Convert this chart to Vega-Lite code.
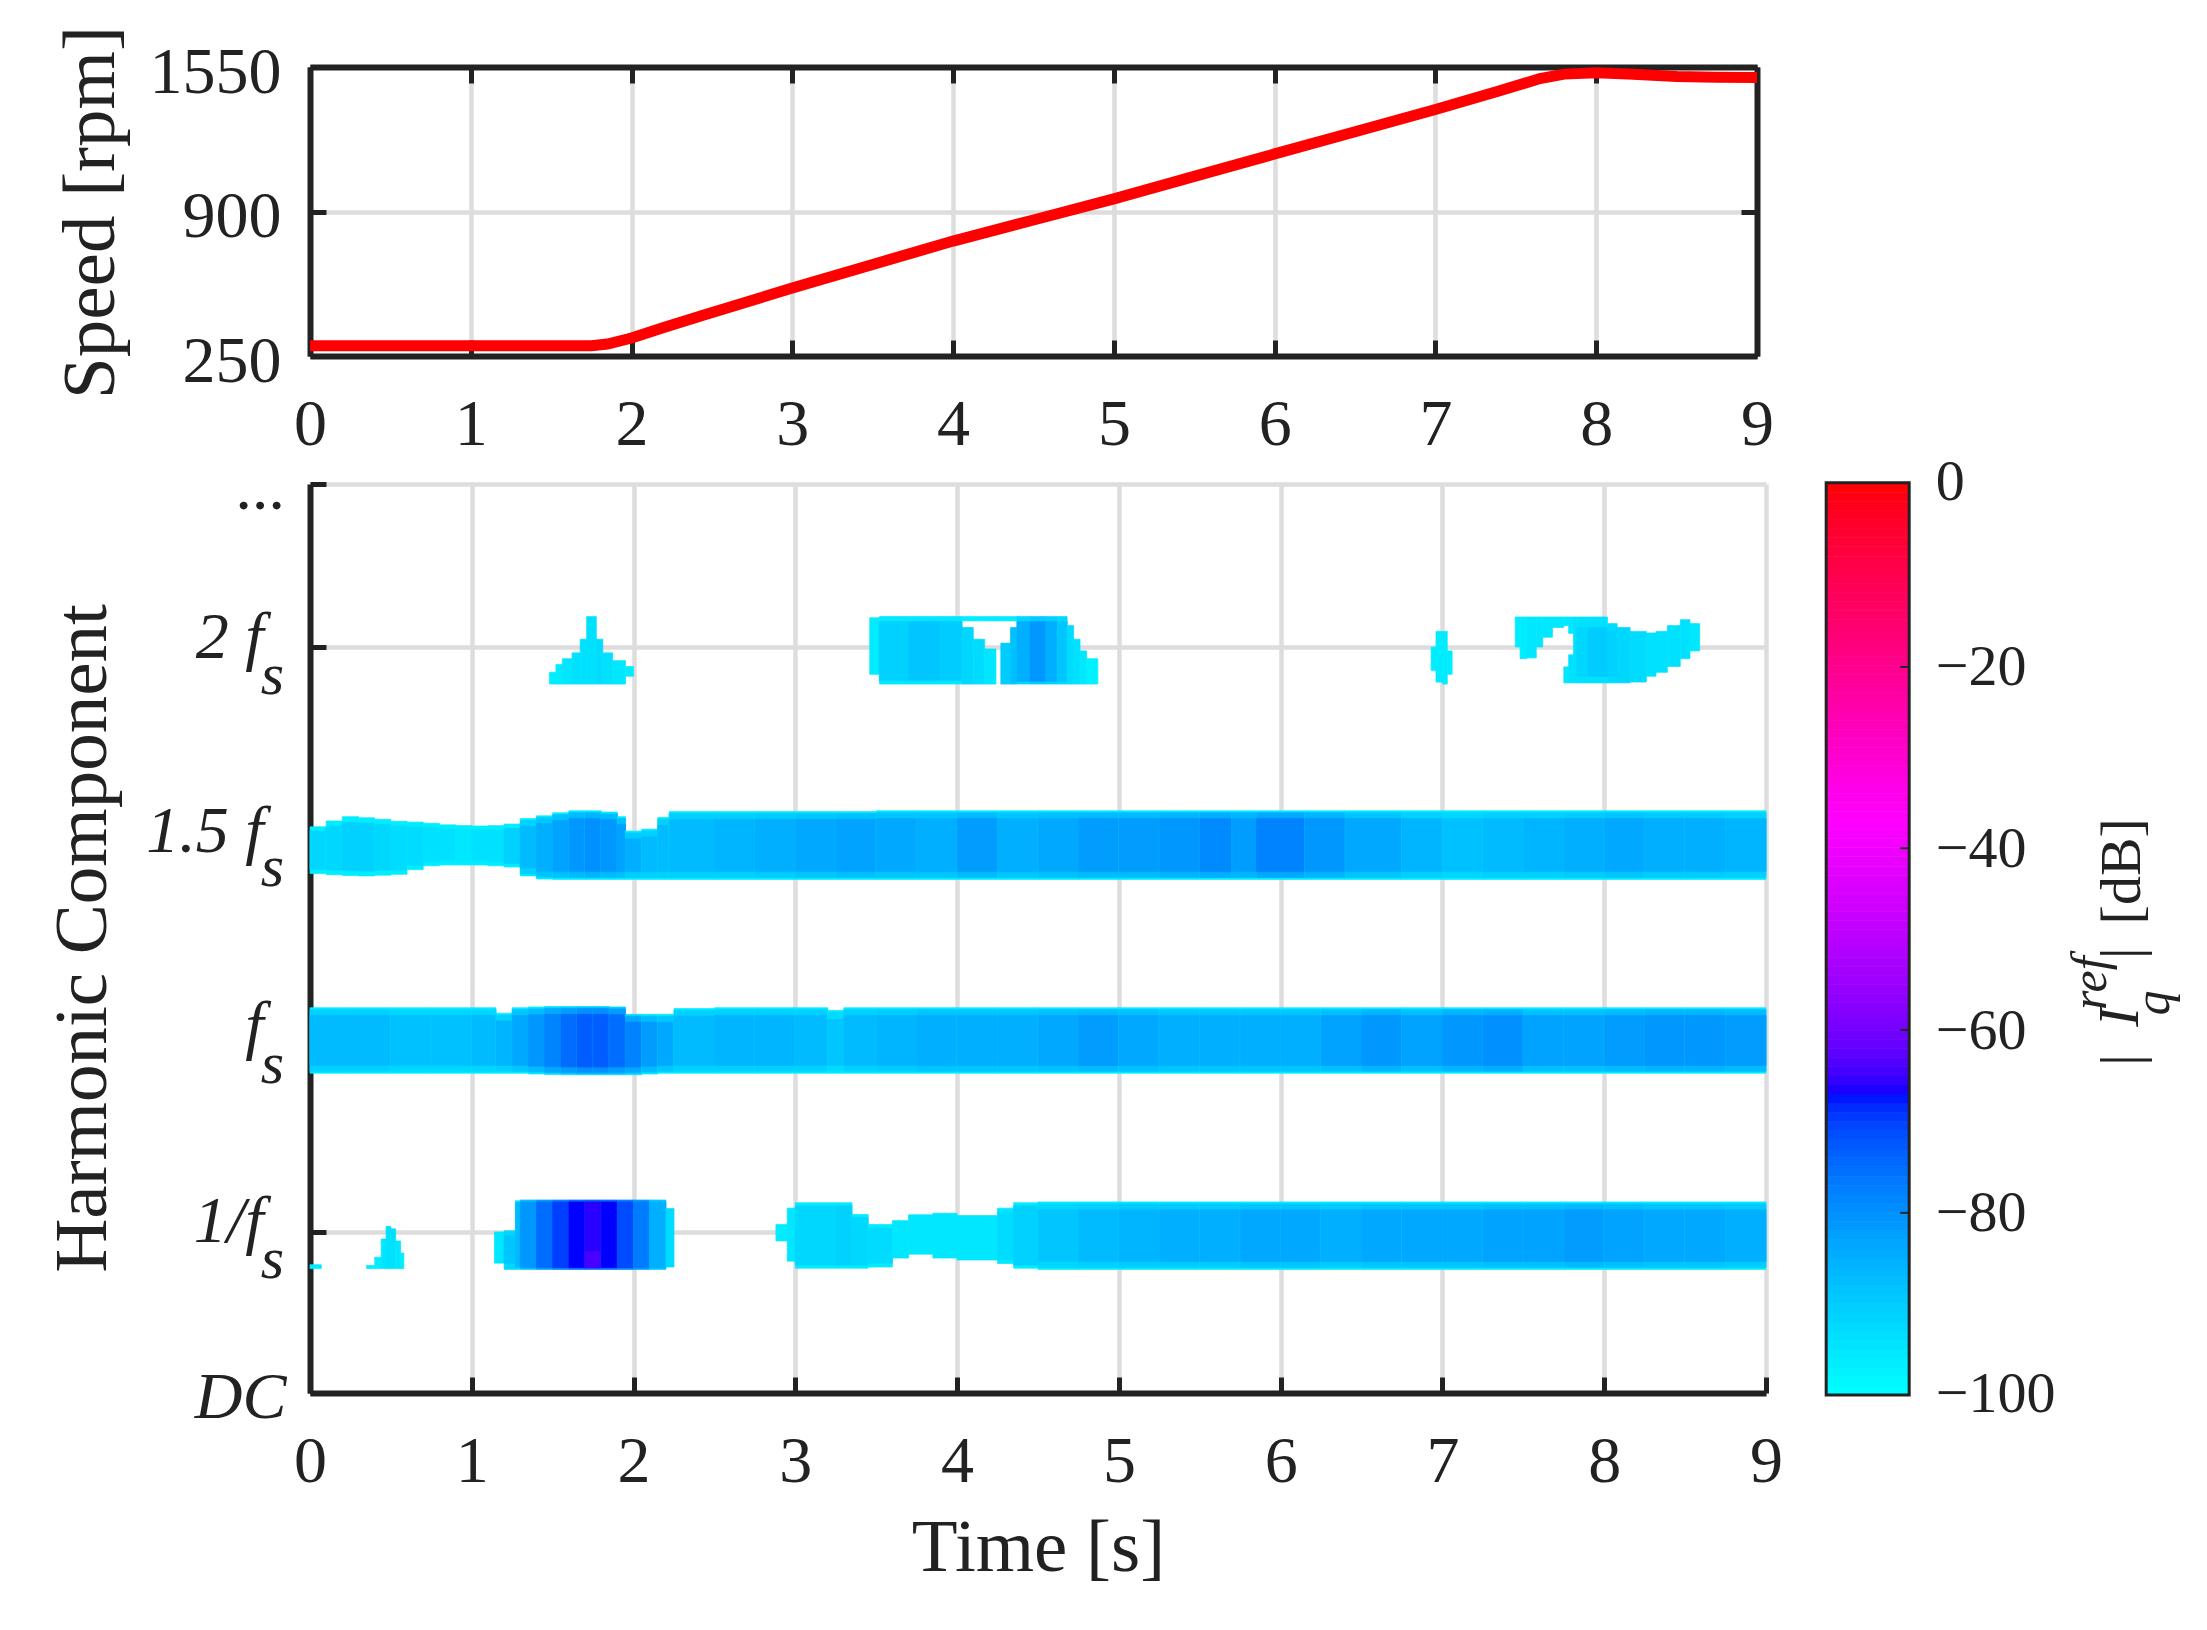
{"$schema":"https://vega.github.io/schema/vega-lite/v6.json","autosize":{"type":"none"},"padding":{"left":310,"top":67,"right":1897,"bottom":1563},"background":"white","bounds":"flush","spacing":128,"config":{"view":{"stroke":null},"font":"Liberation Serif","axis":{"labelFont":"Liberation Serif","titleFont":"Liberation Serif","labelColor":"#222222","titleColor":"#222222","titleFontWeight":"normal","domainColor":"#222222","domainWidth":6,"tickColor":"#222222","tickWidth":5,"tickSize":-16,"gridColor":"#dddddd","gridWidth":4.5,"labelFontSize":66,"titleFontSize":75,"labelFlush":false,"labelOverlap":false}},
"datasets":{
"speed":[{"t":0,"rpm":296},{"t":0.5,"rpm":296},{"t":1,"rpm":296},{"t":1.5,"rpm":296},{"t":1.75,"rpm":296},{"t":1.85,"rpm":304},{"t":2,"rpm":331},{"t":2.2,"rpm":378},{"t":2.44,"rpm":432},{"t":3,"rpm":556},{"t":3.5,"rpm":662},{"t":4,"rpm":767},{"t":4.5,"rpm":862},{"t":5,"rpm":957},{"t":5.5,"rpm":1058},{"t":6,"rpm":1159},{"t":6.5,"rpm":1259},{"t":7,"rpm":1359},{"t":7.4,"rpm":1443},{"t":7.65,"rpm":1498},{"t":7.8,"rpm":1518},{"t":8,"rpm":1524},{"t":8.2,"rpm":1518},{"t":8.5,"rpm":1507},{"t":8.75,"rpm":1504},{"t":9,"rpm":1503}],
"subs":[{"x":-0.232,"y":1.926,"label":"s"},{"x":-0.232,"y":1.433,"label":"s"},{"x":-0.232,"y":0.928,"label":"s"},{"x":-0.232,"y":0.428,"label":"s"}],
"cbframe":[{"t":9.372,"t2":9.885,"y":0.082,"y2":2.421}],
"cbticks":[{"x":9.83,"x2":9.885,"y":1.949},{"x":9.83,"x2":9.885,"y":1.484},{"x":9.83,"x2":9.885,"y":1.018},{"x":9.83,"x2":9.885,"y":0.549}],
"cblabels":[{"x":10.05,"y":0.082,"label":"−100"},{"x":10.05,"y":0.545,"label":"−80"},{"x":10.05,"y":1.012,"label":"−60"},{"x":10.05,"y":1.48,"label":"−40"},{"x":10.05,"y":1.945,"label":"−20"},{"x":10.05,"y":2.421,"label":"0"}],
"cbtitle":[{"x":11.31,"y":1.425,"label":"[dB]"},{"x":11.31,"y":0.941,"label":"|"},{"x":11.31,"y":1.215,"label":"|"}],
"cbitalic":[{"x":11.3,"y":1.051,"label":"I"}],
"cbsmall":[{"x":11.1,"y":1.138,"label":"ref"},{"x":11.49,"y":1.087,"label":"q"}],
"field":[
{"t":9.372,"t2":9.885,"y":0.082,"y2":0.105,"db":-99.5},{"t":9.372,"t2":9.885,"y":0.105,"y2":0.129,"db":-98.5},{"t":9.372,"t2":9.885,"y":0.129,"y2":0.152,"db":-97.5},{"t":9.372,"t2":9.885,"y":0.152,"y2":0.176,"db":-96.5},{"t":9.372,"t2":9.885,"y":0.176,"y2":0.199,"db":-95.5},{"t":9.372,"t2":9.885,"y":0.199,"y2":0.222,"db":-94.5},{"t":9.372,"t2":9.885,"y":0.222,"y2":0.246,"db":-93.5},{"t":9.372,"t2":9.885,"y":0.246,"y2":0.269,"db":-92.5},{"t":9.372,"t2":9.885,"y":0.269,"y2":0.292,"db":-91.5},{"t":9.372,"t2":9.885,"y":0.292,"y2":0.316,"db":-90.5},
{"t":9.372,"t2":9.885,"y":0.316,"y2":0.339,"db":-89.5},{"t":9.372,"t2":9.885,"y":0.339,"y2":0.363,"db":-88.5},{"t":9.372,"t2":9.885,"y":0.363,"y2":0.386,"db":-87.5},{"t":9.372,"t2":9.885,"y":0.386,"y2":0.409,"db":-86.5},{"t":9.372,"t2":9.885,"y":0.409,"y2":0.433,"db":-85.5},{"t":9.372,"t2":9.885,"y":0.433,"y2":0.456,"db":-84.5},{"t":9.372,"t2":9.885,"y":0.456,"y2":0.48,"db":-83.5},{"t":9.372,"t2":9.885,"y":0.48,"y2":0.503,"db":-82.5},{"t":9.372,"t2":9.885,"y":0.503,"y2":0.526,"db":-81.5},{"t":9.372,"t2":9.885,"y":0.526,"y2":0.55,"db":-80.5},
{"t":9.372,"t2":9.885,"y":0.55,"y2":0.573,"db":-79.5},{"t":9.372,"t2":9.885,"y":0.573,"y2":0.596,"db":-78.5},{"t":9.372,"t2":9.885,"y":0.596,"y2":0.62,"db":-77.5},{"t":9.372,"t2":9.885,"y":0.62,"y2":0.643,"db":-76.5},{"t":9.372,"t2":9.885,"y":0.643,"y2":0.667,"db":-75.5},{"t":9.372,"t2":9.885,"y":0.667,"y2":0.69,"db":-74.5},{"t":9.372,"t2":9.885,"y":0.69,"y2":0.713,"db":-73.5},{"t":9.372,"t2":9.885,"y":0.713,"y2":0.737,"db":-72.5},{"t":9.372,"t2":9.885,"y":0.737,"y2":0.76,"db":-71.5},{"t":9.372,"t2":9.885,"y":0.76,"y2":0.784,"db":-70.5},
{"t":9.372,"t2":9.885,"y":0.784,"y2":0.807,"db":-69.5},{"t":9.372,"t2":9.885,"y":0.807,"y2":0.83,"db":-68.5},{"t":9.372,"t2":9.885,"y":0.83,"y2":0.854,"db":-67.5},{"t":9.372,"t2":9.885,"y":0.854,"y2":0.877,"db":-66.5},{"t":9.372,"t2":9.885,"y":0.877,"y2":0.9,"db":-65.5},{"t":9.372,"t2":9.885,"y":0.9,"y2":0.924,"db":-64.5},{"t":9.372,"t2":9.885,"y":0.924,"y2":0.947,"db":-63.5},{"t":9.372,"t2":9.885,"y":0.947,"y2":0.971,"db":-62.5},{"t":9.372,"t2":9.885,"y":0.971,"y2":0.994,"db":-61.5},{"t":9.372,"t2":9.885,"y":0.994,"y2":1.017,"db":-60.5},
{"t":9.372,"t2":9.885,"y":1.017,"y2":1.041,"db":-59.5},{"t":9.372,"t2":9.885,"y":1.041,"y2":1.064,"db":-58.5},{"t":9.372,"t2":9.885,"y":1.064,"y2":1.088,"db":-57.5},{"t":9.372,"t2":9.885,"y":1.088,"y2":1.111,"db":-56.5},{"t":9.372,"t2":9.885,"y":1.111,"y2":1.134,"db":-55.5},{"t":9.372,"t2":9.885,"y":1.134,"y2":1.158,"db":-54.5},{"t":9.372,"t2":9.885,"y":1.158,"y2":1.181,"db":-53.5},{"t":9.372,"t2":9.885,"y":1.181,"y2":1.204,"db":-52.5},{"t":9.372,"t2":9.885,"y":1.204,"y2":1.228,"db":-51.5},{"t":9.372,"t2":9.885,"y":1.228,"y2":1.251,"db":-50.5},
{"t":9.372,"t2":9.885,"y":1.251,"y2":1.275,"db":-49.5},{"t":9.372,"t2":9.885,"y":1.275,"y2":1.298,"db":-48.5},{"t":9.372,"t2":9.885,"y":1.298,"y2":1.321,"db":-47.5},{"t":9.372,"t2":9.885,"y":1.321,"y2":1.345,"db":-46.5},{"t":9.372,"t2":9.885,"y":1.345,"y2":1.368,"db":-45.5},{"t":9.372,"t2":9.885,"y":1.368,"y2":1.392,"db":-44.5},{"t":9.372,"t2":9.885,"y":1.392,"y2":1.415,"db":-43.5},{"t":9.372,"t2":9.885,"y":1.415,"y2":1.438,"db":-42.5},{"t":9.372,"t2":9.885,"y":1.438,"y2":1.462,"db":-41.5},{"t":9.372,"t2":9.885,"y":1.462,"y2":1.485,"db":-40.5},
{"t":9.372,"t2":9.885,"y":1.485,"y2":1.508,"db":-39.5},{"t":9.372,"t2":9.885,"y":1.508,"y2":1.532,"db":-38.5},{"t":9.372,"t2":9.885,"y":1.532,"y2":1.555,"db":-37.5},{"t":9.372,"t2":9.885,"y":1.555,"y2":1.579,"db":-36.5},{"t":9.372,"t2":9.885,"y":1.579,"y2":1.602,"db":-35.5},{"t":9.372,"t2":9.885,"y":1.602,"y2":1.625,"db":-34.5},{"t":9.372,"t2":9.885,"y":1.625,"y2":1.649,"db":-33.5},{"t":9.372,"t2":9.885,"y":1.649,"y2":1.672,"db":-32.5},{"t":9.372,"t2":9.885,"y":1.672,"y2":1.696,"db":-31.5},{"t":9.372,"t2":9.885,"y":1.696,"y2":1.719,"db":-30.5},
{"t":9.372,"t2":9.885,"y":1.719,"y2":1.742,"db":-29.5},{"t":9.372,"t2":9.885,"y":1.742,"y2":1.766,"db":-28.5},{"t":9.372,"t2":9.885,"y":1.766,"y2":1.789,"db":-27.5},{"t":9.372,"t2":9.885,"y":1.789,"y2":1.812,"db":-26.5},{"t":9.372,"t2":9.885,"y":1.812,"y2":1.836,"db":-25.5},{"t":9.372,"t2":9.885,"y":1.836,"y2":1.859,"db":-24.5},{"t":9.372,"t2":9.885,"y":1.859,"y2":1.883,"db":-23.5},{"t":9.372,"t2":9.885,"y":1.883,"y2":1.906,"db":-22.5},{"t":9.372,"t2":9.885,"y":1.906,"y2":1.929,"db":-21.5},{"t":9.372,"t2":9.885,"y":1.929,"y2":1.953,"db":-20.5},
{"t":9.372,"t2":9.885,"y":1.953,"y2":1.976,"db":-19.5},{"t":9.372,"t2":9.885,"y":1.976,"y2":2,"db":-18.5},{"t":9.372,"t2":9.885,"y":2,"y2":2.023,"db":-17.5},{"t":9.372,"t2":9.885,"y":2.023,"y2":2.046,"db":-16.5},{"t":9.372,"t2":9.885,"y":2.046,"y2":2.07,"db":-15.5},{"t":9.372,"t2":9.885,"y":2.07,"y2":2.093,"db":-14.5},{"t":9.372,"t2":9.885,"y":2.093,"y2":2.116,"db":-13.5},{"t":9.372,"t2":9.885,"y":2.116,"y2":2.14,"db":-12.5},{"t":9.372,"t2":9.885,"y":2.14,"y2":2.163,"db":-11.5},{"t":9.372,"t2":9.885,"y":2.163,"y2":2.187,"db":-10.5},
{"t":9.372,"t2":9.885,"y":2.187,"y2":2.21,"db":-9.5},{"t":9.372,"t2":9.885,"y":2.21,"y2":2.233,"db":-8.5},{"t":9.372,"t2":9.885,"y":2.233,"y2":2.257,"db":-7.5},{"t":9.372,"t2":9.885,"y":2.257,"y2":2.28,"db":-6.5},{"t":9.372,"t2":9.885,"y":2.28,"y2":2.304,"db":-5.5},{"t":9.372,"t2":9.885,"y":2.304,"y2":2.327,"db":-4.5},{"t":9.372,"t2":9.885,"y":2.327,"y2":2.35,"db":-3.5},{"t":9.372,"t2":9.885,"y":2.35,"y2":2.374,"db":-2.5},{"t":9.372,"t2":9.885,"y":2.374,"y2":2.397,"db":-1.5},{"t":9.372,"t2":9.885,"y":2.397,"y2":2.421,"db":-0.5},
{"t":0,"t2":0.1,"y":1.419,"y2":1.539,"db":-96},{"t":0,"t2":0.1,"y":1.43,"y2":1.528,"db":-92},
{"t":0.1,"t2":0.2,"y":1.416,"y2":1.554,"db":-96},{"t":0.1,"t2":0.2,"y":1.428,"y2":1.54,"db":-92},
{"t":0.2,"t2":0.3,"y":1.414,"y2":1.565,"db":-96},{"t":0.2,"t2":0.3,"y":1.426,"y2":1.55,"db":-91},
{"t":0.3,"t2":0.4,"y":1.413,"y2":1.562,"db":-96},{"t":0.3,"t2":0.4,"y":1.425,"y2":1.548,"db":-91},
{"t":0.4,"t2":0.5,"y":1.415,"y2":1.558,"db":-96},{"t":0.4,"t2":0.5,"y":1.427,"y2":1.545,"db":-92},
{"t":0.5,"t2":0.6,"y":1.417,"y2":1.553,"db":-96},{"t":0.5,"t2":0.6,"y":1.429,"y2":1.54,"db":-93},
{"t":0.6,"t2":0.7,"y":1.429,"y2":1.551,"db":-96},{"t":0.6,"t2":0.7,"y":1.44,"y2":1.538,"db":-93},
{"t":0.7,"t2":0.8,"y":1.439,"y2":1.548,"db":-96},{"t":0.7,"t2":0.8,"y":1.45,"y2":1.536,"db":-94},
{"t":0.8,"t2":0.9,"y":1.441,"y2":1.544,"db":-96},{"t":0.8,"t2":0.9,"y":1.452,"y2":1.533,"db":-94},
{"t":0.9,"t2":1,"y":1.441,"y2":1.542,"db":-96},{"t":0.9,"t2":1,"y":1.452,"y2":1.53,"db":-95},
{"t":1,"t2":1.1,"y":1.441,"y2":1.541,"db":-96},{"t":1,"t2":1.1,"y":1.452,"y2":1.53,"db":-94},
{"t":1.1,"t2":1.2,"y":1.439,"y2":1.542,"db":-96},{"t":1.1,"t2":1.2,"y":1.45,"y2":1.53,"db":-94},
{"t":1.2,"t2":1.3,"y":1.436,"y2":1.546,"db":-96},{"t":1.2,"t2":1.3,"y":1.445,"y2":1.535,"db":-91},
{"t":1.3,"t2":1.4,"y":1.413,"y2":1.56,"db":-96},{"t":1.3,"t2":1.4,"y":1.418,"y2":1.555,"db":-91},{"t":1.3,"t2":1.4,"y":1.433,"y2":1.54,"db":-87},
{"t":1.4,"t2":1.5,"y":1.405,"y2":1.567,"db":-96},{"t":1.4,"t2":1.5,"y":1.41,"y2":1.562,"db":-89},{"t":1.4,"t2":1.5,"y":1.425,"y2":1.547,"db":-85},
{"t":1.5,"t2":1.6,"y":1.404,"y2":1.575,"db":-96},{"t":1.5,"t2":1.6,"y":1.409,"y2":1.57,"db":-88},{"t":1.5,"t2":1.6,"y":1.424,"y2":1.555,"db":-83},
{"t":1.6,"t2":1.7,"y":1.404,"y2":1.58,"db":-96},{"t":1.6,"t2":1.7,"y":1.409,"y2":1.575,"db":-87},{"t":1.6,"t2":1.7,"y":1.424,"y2":1.56,"db":-81},
{"t":1.7,"t2":1.8,"y":1.404,"y2":1.58,"db":-96},{"t":1.7,"t2":1.8,"y":1.409,"y2":1.575,"db":-86},{"t":1.7,"t2":1.8,"y":1.424,"y2":1.56,"db":-80},
{"t":1.8,"t2":1.9,"y":1.404,"y2":1.577,"db":-96},{"t":1.8,"t2":1.9,"y":1.409,"y2":1.572,"db":-87},{"t":1.8,"t2":1.9,"y":1.424,"y2":1.557,"db":-81},
{"t":1.9,"t2":1.95,"y":1.404,"y2":1.565,"db":-96},{"t":1.9,"t2":1.95,"y":1.409,"y2":1.56,"db":-88},{"t":1.9,"t2":1.95,"y":1.424,"y2":1.545,"db":-83},
{"t":1.95,"t2":2.05,"y":1.404,"y2":1.528,"db":-96},{"t":1.95,"t2":2.05,"y":1.409,"y2":1.523,"db":-90},{"t":1.95,"t2":2.05,"y":1.424,"y2":1.508,"db":-85},
{"t":2.05,"t2":2.15,"y":1.404,"y2":1.533,"db":-96},{"t":2.05,"t2":2.15,"y":1.409,"y2":1.528,"db":-91},{"t":2.05,"t2":2.15,"y":1.424,"y2":1.513,"db":-87},
{"t":2.15,"t2":2.22,"y":1.404,"y2":1.563,"db":-96},{"t":2.15,"t2":2.22,"y":1.409,"y2":1.558,"db":-91},{"t":2.15,"t2":2.22,"y":1.424,"y2":1.543,"db":-87},
{"t":2.22,"t2":2.5,"y":1.404,"y2":1.578,"db":-96},{"t":2.22,"t2":2.5,"y":1.409,"y2":1.573,"db":-91},{"t":2.22,"t2":2.5,"y":1.424,"y2":1.558,"db":-87},
{"t":2.5,"t2":2.75,"y":1.404,"y2":1.578,"db":-96},{"t":2.5,"t2":2.75,"y":1.409,"y2":1.573,"db":-91},{"t":2.5,"t2":2.75,"y":1.424,"y2":1.558,"db":-86},
{"t":2.75,"t2":3,"y":1.404,"y2":1.578,"db":-96},{"t":2.75,"t2":3,"y":1.409,"y2":1.573,"db":-90},{"t":2.75,"t2":3,"y":1.424,"y2":1.558,"db":-85},
{"t":3,"t2":3.25,"y":1.404,"y2":1.578,"db":-96},{"t":3,"t2":3.25,"y":1.409,"y2":1.573,"db":-89},{"t":3,"t2":3.25,"y":1.424,"y2":1.558,"db":-84},
{"t":3.25,"t2":3.5,"y":1.404,"y2":1.578,"db":-96},{"t":3.25,"t2":3.5,"y":1.409,"y2":1.573,"db":-88},{"t":3.25,"t2":3.5,"y":1.424,"y2":1.558,"db":-83},
{"t":3.5,"t2":3.75,"y":1.404,"y2":1.58,"db":-96},{"t":3.5,"t2":3.75,"y":1.409,"y2":1.575,"db":-89},{"t":3.5,"t2":3.75,"y":1.424,"y2":1.56,"db":-84},
{"t":3.75,"t2":4,"y":1.404,"y2":1.58,"db":-96},{"t":3.75,"t2":4,"y":1.409,"y2":1.575,"db":-89},{"t":3.75,"t2":4,"y":1.424,"y2":1.56,"db":-85},
{"t":4,"t2":4.25,"y":1.404,"y2":1.58,"db":-96},{"t":4,"t2":4.25,"y":1.409,"y2":1.575,"db":-87},{"t":4,"t2":4.25,"y":1.424,"y2":1.56,"db":-82},
{"t":4.25,"t2":4.5,"y":1.404,"y2":1.58,"db":-96},{"t":4.25,"t2":4.5,"y":1.409,"y2":1.575,"db":-89},{"t":4.25,"t2":4.5,"y":1.424,"y2":1.56,"db":-85},
{"t":4.5,"t2":4.75,"y":1.404,"y2":1.58,"db":-96},{"t":4.5,"t2":4.75,"y":1.409,"y2":1.575,"db":-88},{"t":4.5,"t2":4.75,"y":1.424,"y2":1.56,"db":-84},
{"t":4.75,"t2":5,"y":1.404,"y2":1.58,"db":-96},{"t":4.75,"t2":5,"y":1.409,"y2":1.575,"db":-87},{"t":4.75,"t2":5,"y":1.424,"y2":1.56,"db":-82},
{"t":5,"t2":5.25,"y":1.404,"y2":1.58,"db":-96},{"t":5,"t2":5.25,"y":1.409,"y2":1.575,"db":-87},{"t":5,"t2":5.25,"y":1.424,"y2":1.56,"db":-82},
{"t":5.25,"t2":5.5,"y":1.404,"y2":1.58,"db":-96},{"t":5.25,"t2":5.5,"y":1.409,"y2":1.575,"db":-86},{"t":5.25,"t2":5.5,"y":1.424,"y2":1.56,"db":-81},
{"t":5.5,"t2":5.7,"y":1.404,"y2":1.58,"db":-96},{"t":5.5,"t2":5.7,"y":1.409,"y2":1.575,"db":-85},{"t":5.5,"t2":5.7,"y":1.424,"y2":1.56,"db":-79},
{"t":5.7,"t2":5.85,"y":1.404,"y2":1.58,"db":-96},{"t":5.7,"t2":5.85,"y":1.409,"y2":1.575,"db":-86},{"t":5.7,"t2":5.85,"y":1.424,"y2":1.56,"db":-82},
{"t":5.85,"t2":6.15,"y":1.404,"y2":1.58,"db":-96},{"t":5.85,"t2":6.15,"y":1.409,"y2":1.575,"db":-84},{"t":5.85,"t2":6.15,"y":1.424,"y2":1.56,"db":-78},
{"t":6.15,"t2":6.4,"y":1.404,"y2":1.58,"db":-96},{"t":6.15,"t2":6.4,"y":1.409,"y2":1.575,"db":-86},{"t":6.15,"t2":6.4,"y":1.424,"y2":1.56,"db":-81},
{"t":6.4,"t2":6.75,"y":1.404,"y2":1.58,"db":-96},{"t":6.4,"t2":6.75,"y":1.409,"y2":1.575,"db":-89},{"t":6.4,"t2":6.75,"y":1.424,"y2":1.56,"db":-84},
{"t":6.75,"t2":7,"y":1.404,"y2":1.58,"db":-96},{"t":6.75,"t2":7,"y":1.409,"y2":1.575,"db":-91},{"t":6.75,"t2":7,"y":1.424,"y2":1.56,"db":-86},
{"t":7,"t2":7.25,"y":1.404,"y2":1.58,"db":-96},{"t":7,"t2":7.25,"y":1.409,"y2":1.575,"db":-92},{"t":7,"t2":7.25,"y":1.424,"y2":1.56,"db":-88},
{"t":7.25,"t2":7.5,"y":1.404,"y2":1.58,"db":-96},{"t":7.25,"t2":7.5,"y":1.409,"y2":1.575,"db":-91},{"t":7.25,"t2":7.5,"y":1.424,"y2":1.56,"db":-87},
{"t":7.5,"t2":7.75,"y":1.404,"y2":1.58,"db":-96},{"t":7.5,"t2":7.75,"y":1.409,"y2":1.575,"db":-91},{"t":7.5,"t2":7.75,"y":1.424,"y2":1.56,"db":-86},
{"t":7.75,"t2":8,"y":1.404,"y2":1.58,"db":-96},{"t":7.75,"t2":8,"y":1.409,"y2":1.575,"db":-90},{"t":7.75,"t2":8,"y":1.424,"y2":1.56,"db":-85},
{"t":8,"t2":8.25,"y":1.404,"y2":1.58,"db":-96},{"t":8,"t2":8.25,"y":1.409,"y2":1.575,"db":-89},{"t":8,"t2":8.25,"y":1.424,"y2":1.56,"db":-84},
{"t":8.25,"t2":8.5,"y":1.404,"y2":1.58,"db":-96},{"t":8.25,"t2":8.5,"y":1.409,"y2":1.575,"db":-90},{"t":8.25,"t2":8.5,"y":1.424,"y2":1.56,"db":-85},
{"t":8.5,"t2":8.75,"y":1.404,"y2":1.58,"db":-96},{"t":8.5,"t2":8.75,"y":1.409,"y2":1.575,"db":-90},{"t":8.5,"t2":8.75,"y":1.424,"y2":1.56,"db":-85},
{"t":8.75,"t2":9,"y":1.404,"y2":1.58,"db":-96},{"t":8.75,"t2":9,"y":1.409,"y2":1.575,"db":-91},{"t":8.75,"t2":9,"y":1.424,"y2":1.56,"db":-86},

{"t":0,"t2":0.25,"y":0.907,"y2":1.075,"db":-96},{"t":0,"t2":0.25,"y":0.912,"y2":1.07,"db":-91},{"t":0,"t2":0.25,"y":0.927,"y2":1.055,"db":-87},
{"t":0.25,"t2":0.5,"y":0.907,"y2":1.075,"db":-96},{"t":0.25,"t2":0.5,"y":0.912,"y2":1.07,"db":-91},{"t":0.25,"t2":0.5,"y":0.927,"y2":1.055,"db":-87},
{"t":0.5,"t2":0.75,"y":0.907,"y2":1.075,"db":-96},{"t":0.5,"t2":0.75,"y":0.912,"y2":1.07,"db":-92},{"t":0.5,"t2":0.75,"y":0.927,"y2":1.055,"db":-88},
{"t":0.75,"t2":1,"y":0.907,"y2":1.075,"db":-96},{"t":0.75,"t2":1,"y":0.912,"y2":1.07,"db":-92},{"t":0.75,"t2":1,"y":0.927,"y2":1.055,"db":-88},
{"t":1,"t2":1.15,"y":0.907,"y2":1.075,"db":-96},{"t":1,"t2":1.15,"y":0.912,"y2":1.07,"db":-92},{"t":1,"t2":1.15,"y":0.927,"y2":1.055,"db":-87},
{"t":1.15,"t2":1.25,"y":0.907,"y2":1.061,"db":-96},{"t":1.15,"t2":1.25,"y":0.912,"y2":1.056,"db":-91},{"t":1.15,"t2":1.25,"y":0.927,"y2":1.041,"db":-86},
{"t":1.25,"t2":1.35,"y":0.907,"y2":1.075,"db":-96},{"t":1.25,"t2":1.35,"y":0.912,"y2":1.07,"db":-89},{"t":1.25,"t2":1.35,"y":0.927,"y2":1.055,"db":-84},
{"t":1.35,"t2":1.45,"y":0.905,"y2":1.077,"db":-96},{"t":1.35,"t2":1.45,"y":0.91,"y2":1.072,"db":-87},{"t":1.35,"t2":1.45,"y":0.925,"y2":1.057,"db":-81},
{"t":1.45,"t2":1.55,"y":0.904,"y2":1.078,"db":-93},{"t":1.45,"t2":1.55,"y":0.909,"y2":1.073,"db":-84},{"t":1.45,"t2":1.55,"y":0.924,"y2":1.058,"db":-78},
{"t":1.55,"t2":1.65,"y":0.903,"y2":1.078,"db":-92},{"t":1.55,"t2":1.65,"y":0.908,"y2":1.073,"db":-82},{"t":1.55,"t2":1.65,"y":0.923,"y2":1.058,"db":-75},
{"t":1.65,"t2":1.75,"y":0.903,"y2":1.078,"db":-90},{"t":1.65,"t2":1.75,"y":0.908,"y2":1.073,"db":-80},{"t":1.65,"t2":1.75,"y":0.923,"y2":1.058,"db":-73},
{"t":1.75,"t2":1.85,"y":0.903,"y2":1.078,"db":-90},{"t":1.75,"t2":1.85,"y":0.908,"y2":1.073,"db":-80},{"t":1.75,"t2":1.85,"y":0.923,"y2":1.058,"db":-73},
{"t":1.85,"t2":1.95,"y":0.903,"y2":1.077,"db":-91},{"t":1.85,"t2":1.95,"y":0.908,"y2":1.072,"db":-82},{"t":1.85,"t2":1.95,"y":0.923,"y2":1.057,"db":-75},
{"t":1.95,"t2":2.05,"y":0.903,"y2":1.058,"db":-93},{"t":1.95,"t2":2.05,"y":0.908,"y2":1.053,"db":-84},{"t":1.95,"t2":2.05,"y":0.923,"y2":1.038,"db":-78},
{"t":2.05,"t2":2.15,"y":0.905,"y2":1.058,"db":-95},{"t":2.05,"t2":2.15,"y":0.91,"y2":1.053,"db":-87},{"t":2.05,"t2":2.15,"y":0.925,"y2":1.038,"db":-82},
{"t":2.15,"t2":2.25,"y":0.907,"y2":1.058,"db":-96},{"t":2.15,"t2":2.25,"y":0.912,"y2":1.053,"db":-89},{"t":2.15,"t2":2.25,"y":0.927,"y2":1.038,"db":-84},
{"t":2.25,"t2":2.5,"y":0.907,"y2":1.073,"db":-96},{"t":2.25,"t2":2.5,"y":0.912,"y2":1.068,"db":-91},{"t":2.25,"t2":2.5,"y":0.927,"y2":1.053,"db":-87},
{"t":2.5,"t2":2.75,"y":0.907,"y2":1.075,"db":-96},{"t":2.5,"t2":2.75,"y":0.912,"y2":1.07,"db":-91},{"t":2.5,"t2":2.75,"y":0.927,"y2":1.055,"db":-86},
{"t":2.75,"t2":3,"y":0.907,"y2":1.075,"db":-96},{"t":2.75,"t2":3,"y":0.912,"y2":1.07,"db":-91},{"t":2.75,"t2":3,"y":0.927,"y2":1.055,"db":-86},
{"t":3,"t2":3.2,"y":0.907,"y2":1.075,"db":-96},{"t":3,"t2":3.2,"y":0.912,"y2":1.07,"db":-91},{"t":3,"t2":3.2,"y":0.927,"y2":1.055,"db":-87},
{"t":3.2,"t2":3.3,"y":0.907,"y2":1.068,"db":-96},{"t":3.2,"t2":3.3,"y":0.912,"y2":1.063,"db":-93},{"t":3.2,"t2":3.3,"y":0.927,"y2":1.045,"db":-89},
{"t":3.3,"t2":3.5,"y":0.907,"y2":1.075,"db":-96},{"t":3.3,"t2":3.5,"y":0.912,"y2":1.07,"db":-91},{"t":3.3,"t2":3.5,"y":0.927,"y2":1.055,"db":-87},
{"t":3.5,"t2":3.75,"y":0.907,"y2":1.075,"db":-96},{"t":3.5,"t2":3.75,"y":0.912,"y2":1.07,"db":-90},{"t":3.5,"t2":3.75,"y":0.927,"y2":1.055,"db":-86},
{"t":3.75,"t2":4,"y":0.907,"y2":1.075,"db":-96},{"t":3.75,"t2":4,"y":0.912,"y2":1.07,"db":-89},{"t":3.75,"t2":4,"y":0.927,"y2":1.055,"db":-85},
{"t":4,"t2":4.25,"y":0.907,"y2":1.075,"db":-96},{"t":4,"t2":4.25,"y":0.912,"y2":1.07,"db":-89},{"t":4,"t2":4.25,"y":0.927,"y2":1.055,"db":-85},
{"t":4.25,"t2":4.5,"y":0.907,"y2":1.075,"db":-96},{"t":4.25,"t2":4.5,"y":0.912,"y2":1.07,"db":-89},{"t":4.25,"t2":4.5,"y":0.927,"y2":1.055,"db":-85},
{"t":4.5,"t2":4.75,"y":0.907,"y2":1.075,"db":-96},{"t":4.5,"t2":4.75,"y":0.912,"y2":1.07,"db":-88},{"t":4.5,"t2":4.75,"y":0.927,"y2":1.055,"db":-84},
{"t":4.75,"t2":5,"y":0.907,"y2":1.075,"db":-96},{"t":4.75,"t2":5,"y":0.912,"y2":1.07,"db":-87},{"t":4.75,"t2":5,"y":0.927,"y2":1.055,"db":-82},
{"t":5,"t2":5.25,"y":0.907,"y2":1.075,"db":-96},{"t":5,"t2":5.25,"y":0.912,"y2":1.07,"db":-88},{"t":5,"t2":5.25,"y":0.927,"y2":1.055,"db":-84},
{"t":5.25,"t2":5.5,"y":0.907,"y2":1.075,"db":-96},{"t":5.25,"t2":5.5,"y":0.912,"y2":1.07,"db":-89},{"t":5.25,"t2":5.5,"y":0.927,"y2":1.055,"db":-85},
{"t":5.5,"t2":5.75,"y":0.907,"y2":1.075,"db":-96},{"t":5.5,"t2":5.75,"y":0.912,"y2":1.07,"db":-89},{"t":5.5,"t2":5.75,"y":0.927,"y2":1.055,"db":-85},
{"t":5.75,"t2":6,"y":0.907,"y2":1.075,"db":-96},{"t":5.75,"t2":6,"y":0.912,"y2":1.07,"db":-89},{"t":5.75,"t2":6,"y":0.927,"y2":1.055,"db":-85},
{"t":6,"t2":6.25,"y":0.907,"y2":1.075,"db":-96},{"t":6,"t2":6.25,"y":0.912,"y2":1.07,"db":-89},{"t":6,"t2":6.25,"y":0.927,"y2":1.055,"db":-85},
{"t":6.25,"t2":6.5,"y":0.907,"y2":1.075,"db":-96},{"t":6.25,"t2":6.5,"y":0.912,"y2":1.07,"db":-88},{"t":6.25,"t2":6.5,"y":0.927,"y2":1.055,"db":-83},
{"t":6.5,"t2":6.75,"y":0.907,"y2":1.075,"db":-96},{"t":6.5,"t2":6.75,"y":0.912,"y2":1.07,"db":-86},{"t":6.5,"t2":6.75,"y":0.927,"y2":1.055,"db":-81},
{"t":6.75,"t2":7,"y":0.907,"y2":1.075,"db":-96},{"t":6.75,"t2":7,"y":0.912,"y2":1.07,"db":-88},{"t":6.75,"t2":7,"y":0.927,"y2":1.055,"db":-83},
{"t":7,"t2":7.25,"y":0.907,"y2":1.075,"db":-96},{"t":7,"t2":7.25,"y":0.912,"y2":1.07,"db":-86},{"t":7,"t2":7.25,"y":0.927,"y2":1.055,"db":-81},
{"t":7.25,"t2":7.5,"y":0.907,"y2":1.075,"db":-96},{"t":7.25,"t2":7.5,"y":0.912,"y2":1.07,"db":-85},{"t":7.25,"t2":7.5,"y":0.927,"y2":1.055,"db":-80},
{"t":7.5,"t2":7.75,"y":0.907,"y2":1.075,"db":-96},{"t":7.5,"t2":7.75,"y":0.912,"y2":1.07,"db":-88},{"t":7.5,"t2":7.75,"y":0.927,"y2":1.055,"db":-83},
{"t":7.75,"t2":8,"y":0.907,"y2":1.075,"db":-96},{"t":7.75,"t2":8,"y":0.912,"y2":1.07,"db":-88},{"t":7.75,"t2":8,"y":0.927,"y2":1.055,"db":-83},
{"t":8,"t2":8.25,"y":0.907,"y2":1.075,"db":-96},{"t":8,"t2":8.25,"y":0.912,"y2":1.07,"db":-87},{"t":8,"t2":8.25,"y":0.927,"y2":1.055,"db":-82},
{"t":8.25,"t2":8.5,"y":0.907,"y2":1.075,"db":-96},{"t":8.25,"t2":8.5,"y":0.912,"y2":1.07,"db":-86},{"t":8.25,"t2":8.5,"y":0.927,"y2":1.055,"db":-81},
{"t":8.5,"t2":8.75,"y":0.907,"y2":1.075,"db":-96},{"t":8.5,"t2":8.75,"y":0.912,"y2":1.07,"db":-86},{"t":8.5,"t2":8.75,"y":0.927,"y2":1.055,"db":-81},
{"t":8.75,"t2":9,"y":0.907,"y2":1.075,"db":-96},{"t":8.75,"t2":9,"y":0.912,"y2":1.07,"db":-87},{"t":8.75,"t2":9,"y":0.927,"y2":1.055,"db":-82},

{"t":0,"t2":0.07,"y":0.406,"y2":0.416,"db":-96},
{"t":0.35,"t2":0.4,"y":0.406,"y2":0.414,"db":-96},
{"t":0.4,"t2":0.44,"y":0.406,"y2":0.435,"db":-96},
{"t":0.44,"t2":0.47,"y":0.406,"y2":0.482,"db":-95},
{"t":0.47,"t2":0.5,"y":0.406,"y2":0.514,"db":-94},
{"t":0.5,"t2":0.53,"y":0.406,"y2":0.508,"db":-94},
{"t":0.53,"t2":0.56,"y":0.406,"y2":0.477,"db":-95},
{"t":0.56,"t2":0.58,"y":0.406,"y2":0.446,"db":-96},
{"t":1.14,"t2":1.2,"y":0.42,"y2":0.5,"db":-95},
{"t":1.2,"t2":1.27,"y":0.404,"y2":0.503,"db":-92},{"t":1.2,"t2":1.27,"y":0.42,"y2":0.49,"db":-89},
{"t":1.27,"t2":1.3,"y":0.404,"y2":0.58,"db":-94},{"t":1.27,"t2":1.3,"y":0.409,"y2":0.575,"db":-87},
{"t":1.3,"t2":1.4,"y":0.404,"y2":0.582,"db":-88},{"t":1.3,"t2":1.4,"y":0.409,"y2":0.577,"db":-81},
{"t":1.4,"t2":1.5,"y":0.404,"y2":0.582,"db":-82},{"t":1.4,"t2":1.5,"y":0.409,"y2":0.577,"db":-75},
{"t":1.5,"t2":1.6,"y":0.404,"y2":0.582,"db":-78},{"t":1.5,"t2":1.6,"y":0.409,"y2":0.577,"db":-70},
{"t":1.6,"t2":1.7,"y":0.404,"y2":0.582,"db":-75},{"t":1.6,"t2":1.7,"y":0.409,"y2":0.577,"db":-67},
{"t":1.7,"t2":1.8,"y":0.404,"y2":0.582,"db":-74},{"t":1.7,"t2":1.8,"y":0.409,"y2":0.577,"db":-66},{"t":1.7,"t2":1.8,"y":0.409,"y2":0.45,"db":-64},
{"t":1.8,"t2":1.9,"y":0.404,"y2":0.582,"db":-75},{"t":1.8,"t2":1.9,"y":0.409,"y2":0.577,"db":-67},
{"t":1.9,"t2":2,"y":0.404,"y2":0.582,"db":-78},{"t":1.9,"t2":2,"y":0.409,"y2":0.577,"db":-71},
{"t":2,"t2":2.1,"y":0.404,"y2":0.582,"db":-82},{"t":2,"t2":2.1,"y":0.409,"y2":0.577,"db":-77},
{"t":2.1,"t2":2.2,"y":0.404,"y2":0.582,"db":-89},{"t":2.1,"t2":2.2,"y":0.409,"y2":0.577,"db":-85},
{"t":2.2,"t2":2.25,"y":0.41,"y2":0.56,"db":-93},
{"t":2.88,"t2":2.95,"y":0.477,"y2":0.519,"db":-96},
{"t":2.95,"t2":3,"y":0.425,"y2":0.561,"db":-95},
{"t":3,"t2":3.25,"y":0.407,"y2":0.575,"db":-96},{"t":3,"t2":3.25,"y":0.415,"y2":0.567,"db":-92},
{"t":3.25,"t2":3.35,"y":0.407,"y2":0.575,"db":-96},{"t":3.25,"t2":3.35,"y":0.415,"y2":0.567,"db":-91},
{"t":3.35,"t2":3.45,"y":0.407,"y2":0.545,"db":-96},{"t":3.35,"t2":3.45,"y":0.415,"y2":0.537,"db":-92},
{"t":3.45,"t2":3.6,"y":0.41,"y2":0.519,"db":-96},{"t":3.45,"t2":3.6,"y":0.42,"y2":0.51,"db":-93},
{"t":3.6,"t2":3.7,"y":0.433,"y2":0.529,"db":-95},
{"t":3.7,"t2":3.85,"y":0.443,"y2":0.544,"db":-95},
{"t":3.85,"t2":4,"y":0.433,"y2":0.548,"db":-95},
{"t":4,"t2":4.25,"y":0.428,"y2":0.542,"db":-95},
{"t":4.25,"t2":4.35,"y":0.419,"y2":0.561,"db":-95},{"t":4.25,"t2":4.35,"y":0.43,"y2":0.55,"db":-93},
{"t":4.35,"t2":4.5,"y":0.407,"y2":0.575,"db":-96},{"t":4.35,"t2":4.5,"y":0.415,"y2":0.567,"db":-91},
{"t":4.5,"t2":4.75,"y":0.404,"y2":0.577,"db":-96},{"t":4.5,"t2":4.75,"y":0.409,"y2":0.572,"db":-92},{"t":4.5,"t2":4.75,"y":0.424,"y2":0.557,"db":-89},
{"t":4.75,"t2":5,"y":0.404,"y2":0.577,"db":-96},{"t":4.75,"t2":5,"y":0.409,"y2":0.572,"db":-91},{"t":4.75,"t2":5,"y":0.424,"y2":0.557,"db":-87},
{"t":5,"t2":5.25,"y":0.404,"y2":0.577,"db":-96},{"t":5,"t2":5.25,"y":0.409,"y2":0.572,"db":-90},{"t":5,"t2":5.25,"y":0.424,"y2":0.557,"db":-86},
{"t":5.25,"t2":5.5,"y":0.404,"y2":0.577,"db":-96},{"t":5.25,"t2":5.5,"y":0.409,"y2":0.572,"db":-90},{"t":5.25,"t2":5.5,"y":0.424,"y2":0.557,"db":-85},
{"t":5.5,"t2":5.75,"y":0.404,"y2":0.577,"db":-96},{"t":5.5,"t2":5.75,"y":0.409,"y2":0.572,"db":-90},{"t":5.5,"t2":5.75,"y":0.424,"y2":0.557,"db":-85},
{"t":5.75,"t2":6,"y":0.404,"y2":0.577,"db":-96},{"t":5.75,"t2":6,"y":0.409,"y2":0.572,"db":-89},{"t":5.75,"t2":6,"y":0.424,"y2":0.557,"db":-84},
{"t":6,"t2":6.25,"y":0.404,"y2":0.577,"db":-96},{"t":6,"t2":6.25,"y":0.409,"y2":0.572,"db":-89},{"t":6,"t2":6.25,"y":0.424,"y2":0.557,"db":-84},
{"t":6.25,"t2":6.5,"y":0.404,"y2":0.577,"db":-96},{"t":6.25,"t2":6.5,"y":0.409,"y2":0.572,"db":-90},{"t":6.25,"t2":6.5,"y":0.424,"y2":0.557,"db":-85},
{"t":6.5,"t2":6.75,"y":0.404,"y2":0.577,"db":-96},{"t":6.5,"t2":6.75,"y":0.409,"y2":0.572,"db":-89},{"t":6.5,"t2":6.75,"y":0.424,"y2":0.557,"db":-84},
{"t":6.75,"t2":7,"y":0.404,"y2":0.577,"db":-96},{"t":6.75,"t2":7,"y":0.409,"y2":0.572,"db":-89},{"t":6.75,"t2":7,"y":0.424,"y2":0.557,"db":-84},
{"t":7,"t2":7.25,"y":0.404,"y2":0.577,"db":-96},{"t":7,"t2":7.25,"y":0.409,"y2":0.572,"db":-89},{"t":7,"t2":7.25,"y":0.424,"y2":0.557,"db":-84},
{"t":7.25,"t2":7.5,"y":0.404,"y2":0.577,"db":-96},{"t":7.25,"t2":7.5,"y":0.409,"y2":0.572,"db":-88},{"t":7.25,"t2":7.5,"y":0.424,"y2":0.557,"db":-83},
{"t":7.5,"t2":7.75,"y":0.404,"y2":0.577,"db":-96},{"t":7.5,"t2":7.75,"y":0.409,"y2":0.572,"db":-88},{"t":7.5,"t2":7.75,"y":0.424,"y2":0.557,"db":-83},
{"t":7.75,"t2":8,"y":0.404,"y2":0.577,"db":-96},{"t":7.75,"t2":8,"y":0.409,"y2":0.572,"db":-87},{"t":7.75,"t2":8,"y":0.424,"y2":0.557,"db":-82},
{"t":8,"t2":8.25,"y":0.404,"y2":0.577,"db":-96},{"t":8,"t2":8.25,"y":0.409,"y2":0.572,"db":-88},{"t":8,"t2":8.25,"y":0.424,"y2":0.557,"db":-83},
{"t":8.25,"t2":8.5,"y":0.404,"y2":0.577,"db":-96},{"t":8.25,"t2":8.5,"y":0.409,"y2":0.572,"db":-89},{"t":8.25,"t2":8.5,"y":0.424,"y2":0.557,"db":-84},
{"t":8.5,"t2":8.75,"y":0.404,"y2":0.577,"db":-96},{"t":8.5,"t2":8.75,"y":0.409,"y2":0.572,"db":-89},{"t":8.5,"t2":8.75,"y":0.424,"y2":0.557,"db":-84},
{"t":8.75,"t2":9,"y":0.404,"y2":0.577,"db":-96},{"t":8.75,"t2":9,"y":0.409,"y2":0.572,"db":-90},{"t":8.75,"t2":9,"y":0.424,"y2":0.557,"db":-85},

{"t":1.48,"t2":1.52,"y":1.905,"y2":1.935,"db":-96},
{"t":1.52,"t2":1.56,"y":1.905,"y2":1.955,"db":-96},
{"t":1.56,"t2":1.62,"y":1.905,"y2":1.97,"db":-95},
{"t":1.62,"t2":1.67,"y":1.905,"y2":1.985,"db":-94},
{"t":1.67,"t2":1.71,"y":1.905,"y2":2.02,"db":-94},
{"t":1.71,"t2":1.77,"y":1.905,"y2":2.078,"db":-94},
{"t":1.77,"t2":1.81,"y":1.905,"y2":2.02,"db":-93},
{"t":1.81,"t2":1.87,"y":1.905,"y2":1.985,"db":-94},
{"t":1.87,"t2":1.95,"y":1.905,"y2":1.965,"db":-95},
{"t":1.95,"t2":2,"y":1.925,"y2":1.95,"db":-96},
{"t":3.46,"t2":3.52,"y":1.93,"y2":2.075,"db":-96},
{"t":3.52,"t2":3.7,"y":1.905,"y2":2.078,"db":-95},{"t":3.52,"t2":3.7,"y":1.915,"y2":2.065,"db":-91},
{"t":3.7,"t2":3.9,"y":1.905,"y2":2.078,"db":-95},{"t":3.7,"t2":3.9,"y":1.915,"y2":2.065,"db":-89},
{"t":3.9,"t2":4.03,"y":1.905,"y2":2.078,"db":-95},{"t":3.9,"t2":4.03,"y":1.915,"y2":2.065,"db":-90},
{"t":4.03,"t2":4.1,"y":1.905,"y2":2.05,"db":-92},{"t":4.03,"t2":4.1,"y":2.067,"y2":2.078,"db":-96},
{"t":4.1,"t2":4.17,"y":1.905,"y2":2.02,"db":-93},{"t":4.1,"t2":4.17,"y":2.067,"y2":2.078,"db":-96},
{"t":4.17,"t2":4.24,"y":1.905,"y2":1.995,"db":-95},{"t":4.17,"t2":4.24,"y":2.067,"y2":2.078,"db":-96},
{"t":4.24,"t2":4.27,"y":2.067,"y2":2.078,"db":-96},
{"t":4.27,"t2":4.33,"y":1.905,"y2":2.01,"db":-90},{"t":4.27,"t2":4.33,"y":2.067,"y2":2.078,"db":-96},
{"t":4.33,"t2":4.37,"y":1.905,"y2":2.05,"db":-88},{"t":4.33,"t2":4.37,"y":2.067,"y2":2.078,"db":-96},
{"t":4.37,"t2":4.45,"y":1.905,"y2":2.078,"db":-92},{"t":4.37,"t2":4.45,"y":1.912,"y2":2.065,"db":-85},
{"t":4.45,"t2":4.55,"y":1.905,"y2":2.078,"db":-90},{"t":4.45,"t2":4.55,"y":1.912,"y2":2.065,"db":-81},
{"t":4.55,"t2":4.62,"y":1.905,"y2":2.078,"db":-91},{"t":4.55,"t2":4.62,"y":1.912,"y2":2.065,"db":-85},
{"t":4.62,"t2":4.68,"y":1.905,"y2":2.078,"db":-92},{"t":4.62,"t2":4.68,"y":1.912,"y2":2.065,"db":-89},
{"t":4.68,"t2":4.72,"y":1.905,"y2":2.055,"db":-93},
{"t":4.72,"t2":4.76,"y":1.905,"y2":2.02,"db":-94},
{"t":4.76,"t2":4.8,"y":1.905,"y2":1.99,"db":-95},
{"t":4.8,"t2":4.87,"y":1.905,"y2":1.97,"db":-97},
{"t":6.93,"t2":6.96,"y":1.94,"y2":2,"db":-96},
{"t":6.96,"t2":7,"y":1.91,"y2":2.04,"db":-96},
{"t":7,"t2":7.03,"y":1.905,"y2":2.04,"db":-96},
{"t":7.03,"t2":7.06,"y":1.93,"y2":1.99,"db":-96},
{"t":7.45,"t2":7.48,"y":2,"y2":2.077,"db":-96},
{"t":7.48,"t2":7.52,"y":1.97,"y2":2.077,"db":-96},
{"t":7.52,"t2":7.58,"y":1.972,"y2":2.077,"db":-95},
{"t":7.58,"t2":7.62,"y":2,"y2":2.077,"db":-95},
{"t":7.62,"t2":7.68,"y":2.025,"y2":2.077,"db":-95},
{"t":7.68,"t2":7.75,"y":2.05,"y2":2.077,"db":-95},
{"t":7.75,"t2":7.78,"y":2.055,"y2":2.077,"db":-95},{"t":7.75,"t2":7.78,"y":1.908,"y2":1.949,"db":-95},
{"t":7.78,"t2":7.81,"y":2.035,"y2":2.077,"db":-95},{"t":7.78,"t2":7.81,"y":1.908,"y2":1.98,"db":-94},
{"t":7.81,"t2":7.83,"y":1.908,"y2":2.077,"db":-94},
{"t":7.83,"t2":7.9,"y":1.908,"y2":2.077,"db":-94},{"t":7.83,"t2":7.9,"y":1.925,"y2":2.05,"db":-92},
{"t":7.9,"t2":8.02,"y":1.908,"y2":2.077,"db":-94},{"t":7.9,"t2":8.02,"y":1.925,"y2":2.05,"db":-90},
{"t":8.02,"t2":8.08,"y":1.908,"y2":2.06,"db":-93},{"t":8.02,"t2":8.08,"y":1.925,"y2":2.04,"db":-91},
{"t":8.08,"t2":8.16,"y":1.908,"y2":2.05,"db":-92},
{"t":8.16,"t2":8.26,"y":1.91,"y2":2.04,"db":-93},
{"t":8.26,"t2":8.32,"y":1.925,"y2":2.036,"db":-94},
{"t":8.32,"t2":8.39,"y":1.935,"y2":2.04,"db":-94},
{"t":8.39,"t2":8.47,"y":1.95,"y2":2.055,"db":-94},
{"t":8.47,"t2":8.53,"y":1.97,"y2":2.07,"db":-94},
{"t":8.53,"t2":8.59,"y":1.99,"y2":2.06,"db":-95}
]},
"vconcat":[
{"width":1447,"height":289,"layer":[
{"data":{"name":"speed"},"mark":{"type":"line","color":"#ff0000","strokeWidth":11,"clip":false},"encoding":{
"x":{"field":"t","type":"quantitative","scale":{"domain":[0,9],"nice":false},"axis":{"values":[0,1,2,3,4,5,6,7,8,9],"format":"d","title":null,"grid":true,"labelPadding":52,"labelBaseline":"top"}},
"y":{"field":"rpm","type":"quantitative","scale":{"domain":[250,1550],"nice":false},"axis":{"values":[250,900,1550],"format":"d","title":"Speed [rpm]","grid":true,"labelPadding":45,"labelOffset":5,"titleX":-181,"titleY":145}}}},
{"data":{"name":"speed"},"mark":{"type":"line","opacity":0},"encoding":{
"x":{"field":"t","type":"quantitative","scale":{"domain":[0,9],"nice":false},"axis":{"orient":"top","values":[0,1,2,3,4,5,6,7,8,9],"labels":false,"title":null,"grid":false}},
"y":{"field":"rpm","type":"quantitative","scale":{"domain":[250,1550],"nice":false},"axis":{"orient":"right","values":[250,900,1550],"labels":false,"title":null,"grid":false}}}}
],"resolve":{"axis":{"x":"independent","y":"independent"}}},
{"width":1456,"height":909,"layer":[
{"data":{"name":"field"},"mark":{"type":"rect","strokeWidth":0.7},"encoding":{
"x":{"field":"t","type":"quantitative","scale":{"domain":[0,9],"nice":false},"axis":{"values":[0,1,2,3,4,5,6,7,8,9],"format":"d","title":"Time [s]","grid":true,"labelPadding":52,"labelBaseline":"top","titlePadding":17}},
"x2":{"field":"t2"},
"y":{"field":"y","type":"quantitative","scale":{"domain":[0.087,2.418],"nice":false},"axis":{"values":[0.087,0.5,1,1.5,2,2.418],"title":"Harmonic Component","grid":true,"labelFontStyle":"italic","labelPadding":63,"labelOffset":-10,"titleX":-189,"titleY":454,"labelExpr":"datum.value<0.1?'DC':datum.value==0.5?'1/f':datum.value==1?'f':datum.value==1.5?'1.5 f':datum.value==2?'2 f':'...'","encoding":{"labels":{"dy":{"condition":{"test":"datum.value<0.1||datum.value>2.4","value":14},"value":0},"dx":{"condition":{"test":"datum.value<0.1||datum.value>2.4","value":23},"value":0}}}}},
"y2":{"field":"y2"},
"color":{"field":"db","type":"quantitative","scale":{"domain":[-100,-67,-37,0],"range":["#00ffff","#0000ff","#ff00ff","#ff0000"]},"legend":null},
"stroke":{"field":"db","type":"quantitative","scale":{"domain":[-100,-67,-37,0],"range":["#00ffff","#0000ff","#ff00ff","#ff0000"]},"legend":null}}},
{"data":{"name":"cbframe"},"mark":{"type":"rect","filled":false,"stroke":"#222222","strokeWidth":3},"encoding":{"x":{"field":"t","type":"quantitative"},"x2":{"field":"t2"},"y":{"field":"y","type":"quantitative"},"y2":{"field":"y2"}}},
{"data":{"name":"cbticks"},"mark":{"type":"rule","color":"#222222","strokeWidth":2},"encoding":{"x":{"field":"x","type":"quantitative"},"x2":{"field":"x2"},"y":{"field":"y","type":"quantitative"}}},
{"data":{"name":"cblabels"},"mark":{"type":"text","font":"Liberation Serif","fontSize":58,"color":"#222222","align":"left","baseline":"middle"},"encoding":{"x":{"field":"x","type":"quantitative"},"y":{"field":"y","type":"quantitative"},"text":{"field":"label"}}},
{"data":{"name":"subs"},"mark":{"type":"text","font":"Liberation Serif","fontStyle":"italic","fontSize":60,"color":"#222222","align":"center","baseline":"middle"},"encoding":{"x":{"field":"x","type":"quantitative"},"y":{"field":"y","type":"quantitative"},"text":{"field":"label"}}},
{"data":{"name":"cbtitle"},"mark":{"type":"text","font":"Liberation Serif","fontSize":58,"color":"#222222","align":"center","baseline":"alphabetic","angle":270},"encoding":{"x":{"field":"x","type":"quantitative"},"y":{"field":"y","type":"quantitative"},"text":{"field":"label"}}},
{"data":{"name":"cbitalic"},"mark":{"type":"text","font":"Liberation Serif","fontStyle":"italic","fontSize":58,"color":"#222222","align":"center","baseline":"alphabetic","angle":270},"encoding":{"x":{"field":"x","type":"quantitative"},"y":{"field":"y","type":"quantitative"},"text":{"field":"label"}}},
{"data":{"name":"cbsmall"},"mark":{"type":"text","font":"Liberation Serif","fontStyle":"italic","fontSize":50,"color":"#222222","align":"center","baseline":"alphabetic","angle":270},"encoding":{"x":{"field":"x","type":"quantitative"},"y":{"field":"y","type":"quantitative"},"text":{"field":"label"}}}
]}
]}
